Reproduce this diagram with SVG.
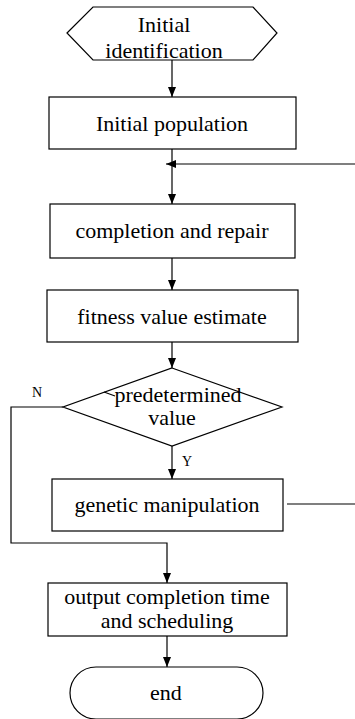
<svg xmlns="http://www.w3.org/2000/svg" width="355" height="719" viewBox="0 0 355 719">
<style>
.s{fill:#fff;stroke:#000;stroke-width:1.2}
.t{font-family:'Liberation Serif',serif;font-size:22px;fill:#000;text-anchor:middle}
.l{font-family:'Liberation Serif',serif;font-size:14px;fill:#000}
.c{fill:none;stroke:#000;stroke-width:1.2}
</style>
<defs>
<marker id="ah" viewBox="0 0 10 10" refX="10" refY="5" markerWidth="10" markerHeight="10" markerUnits="userSpaceOnUse" orient="auto">
<path d="M0,1 L10,5 L0,9 Z" fill="#000"/>
</marker>
</defs>
<rect width="355" height="719" fill="#fff"/>
<g id="connectors">
<line class="c" x1="172" y1="60" x2="172" y2="97" marker-end="url(#ah)"/>
<line class="c" x1="172" y1="149" x2="172" y2="204" marker-end="url(#ah)"/>
<line class="c" x1="355" y1="164" x2="166" y2="164" marker-end="url(#ah)"/>
<line class="c" x1="172" y1="258" x2="172" y2="290" marker-end="url(#ah)"/>
<line class="c" x1="172" y1="342" x2="172" y2="368" marker-end="url(#ah)"/>
<line class="c" x1="172" y1="446" x2="172" y2="479" marker-end="url(#ah)"/>
<polyline class="c" points="63,407 11,407 11,543 167,543 167,583" marker-end="url(#ah)"/>
<line class="c" x1="287" y1="504" x2="355" y2="504"/>
<line class="c" x1="167" y1="636" x2="167" y2="667" marker-end="url(#ah)"/>
<text class="l" x="32" y="397">N</text>
<text class="l" x="182" y="466">Y</text>
</g>
<g id="start">
<polygon class="s" points="67,33 93,7 253,7 277,33 253,60 93,60"/>
<text class="t" x="164" y="32">Initial</text>
<text class="t" x="164" y="58">identification</text>
</g>
<g id="init-pop">
<rect class="s" x="49" y="97" width="247" height="52"/>
<text class="t" x="172" y="131">Initial population</text>
</g>
<g id="repair">
<rect class="s" x="50" y="204" width="245" height="54"/>
<text class="t" x="172" y="238">completion and repair</text>
</g>
<g id="fitness">
<rect class="s" x="47" y="290" width="251" height="52"/>
<text class="t" x="172" y="324">fitness value estimate</text>
</g>
<g id="decision">
<polygon class="s" points="172,368 282,407 172,446 63,407"/>
<line class="c" x1="104" y1="392" x2="115" y2="396"/>
<text class="t" x="178" y="402">predetermined</text>
<text class="t" x="172" y="425">value</text>
</g>
<g id="genetic">
<rect class="s" x="52" y="479" width="231" height="52"/>
<text class="t" x="167" y="512">genetic manipulation</text>
</g>
<g id="output">
<rect class="s" x="48" y="583" width="239" height="53"/>
<text class="t" x="167" y="604">output completion time</text>
<text class="t" x="167" y="628">and scheduling</text>
</g>
<g id="end">
<rect class="s" x="70" y="667" width="193" height="52" rx="26" ry="26"/>
<text class="t" x="166" y="700">end</text>
</g>
</svg>
